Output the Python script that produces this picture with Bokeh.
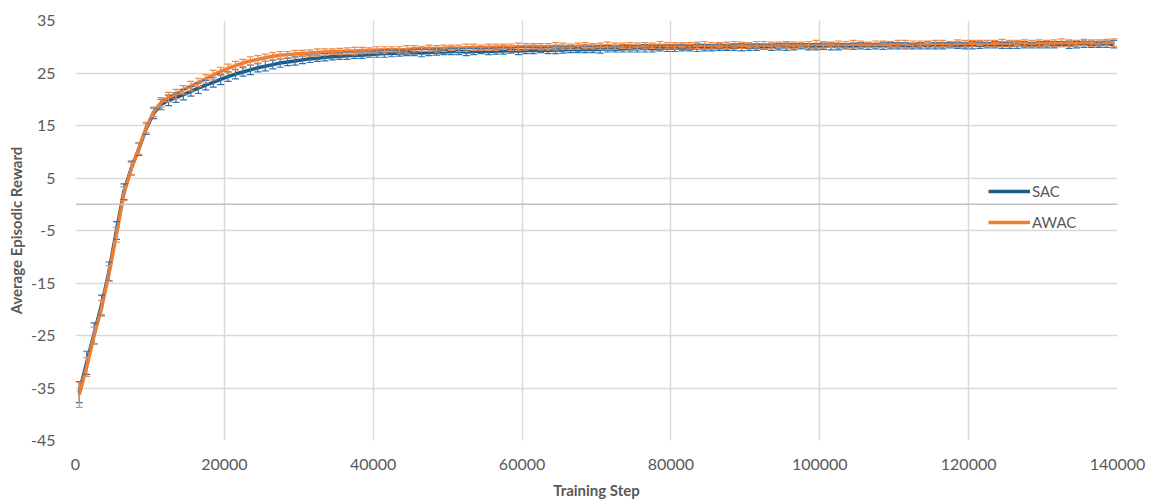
from bokeh.plotting import figure
from bokeh.models import (ColumnDataSource, Whisker, TeeHead, Span, Legend, LegendItem,
                          FixedTicker, BasicTickFormatter, Range1d)
from bokeh.embed import file_html
from bokeh.resources import INLINE

# Evaluation steps (every 1000 training steps, offset by 500)
steps = list(range(500, 140000, 1000))

# Mean episodic reward per evaluation
awac_mean = [
    -36.3, -31.0, -25.0, -19.8, -13.2, -5.8, 2.0, 6.8, 10.6, 14.6,
    17.6, 19.4, 20.4, 21.0, 21.8, 22.5, 23.2, 23.9, 24.6, 25.3,
    25.9, 26.4, 26.9, 27.3, 27.6, 27.9, 28.2, 28.4, 28.5, 28.6,
    28.7, 28.8, 28.9, 29.0, 29.1, 29.1, 29.2, 29.2, 29.3, 29.3,
    29.4, 29.4, 29.5, 29.4, 29.5, 29.6, 29.6, 29.7, 29.6, 29.7,
    29.8, 29.7, 29.8, 29.9, 29.8, 29.9, 29.9, 30.0, 29.9, 30.0,
    30.0, 30.1, 30.0, 30.0, 30.1, 30.1, 30.0, 30.1, 30.2, 30.1,
    30.1, 30.2, 30.1, 30.2, 30.2, 30.1, 30.2, 30.2, 30.3, 30.2,
    30.2, 30.3, 30.2, 30.3, 30.3, 30.2, 30.3, 30.3, 30.4, 30.3,
    30.3, 30.4, 30.3, 30.3, 30.4, 30.4, 30.3, 30.4, 30.4, 30.5,
    30.4, 30.4, 30.5, 30.4, 30.5, 30.5, 30.4, 30.5, 30.5, 30.5,
    30.6, 30.5, 30.5, 30.6, 30.5, 30.6, 30.6, 30.5, 30.6, 30.6,
    30.6, 30.7, 30.6, 30.6, 30.7, 30.6, 30.7, 30.7, 30.6, 30.7,
    30.7, 30.7, 30.8, 30.7, 30.7, 30.8, 30.7, 30.8, 30.8, 30.8,
]
sac_mean = [
    -35.8, -30.2, -24.6, -19.2, -12.8, -5.0, 2.4, 6.9, 10.5, 14.4,
    17.3, 19.0, 19.8, 20.3, 20.9, 21.5, 22.1, 22.7, 23.2, 23.8,
    24.3, 24.8, 25.2, 25.6, 26.0, 26.3, 26.6, 26.9, 27.1, 27.3,
    27.5, 27.7, 27.8, 28.0, 28.1, 28.2, 28.3, 28.4, 28.4, 28.5,
    28.6, 28.7, 28.7, 28.8, 28.8, 28.9, 28.8, 28.9, 29.0, 29.0,
    29.1, 29.1, 29.0, 29.1, 29.2, 29.1, 29.2, 29.2, 29.3, 29.2,
    29.3, 29.3, 29.4, 29.3, 29.4, 29.4, 29.5, 29.4, 29.5, 29.5,
    29.5, 29.6, 29.5, 29.6, 29.6, 29.6, 29.7, 29.6, 29.7, 29.7,
    29.7, 29.8, 29.7, 29.8, 29.8, 29.8, 29.9, 29.8, 29.9, 29.9,
    29.9, 29.9, 30.0, 29.9, 30.0, 30.0, 30.0, 30.1, 30.0, 30.0,
    30.1, 30.1, 30.0, 30.1, 30.1, 30.2, 30.1, 30.1, 30.2, 30.2,
    30.2, 30.2, 30.1, 30.2, 30.3, 30.2, 30.2, 30.3, 30.3, 30.2,
    30.3, 30.3, 30.3, 30.4, 30.3, 30.3, 30.4, 30.4, 30.3, 30.4,
    30.4, 30.4, 30.5, 30.4, 30.4, 30.5, 30.5, 30.4, 30.5, 30.5,
]

# Standard deviation across seeds
awac_std = [
    2.4, 1.8, 1.6, 1.5, 1.5, 1.4, 1.3, 1.2, 1.1, 1.0,
    0.9, 0.9, 0.9, 0.9, 0.8, 0.9, 0.8, 0.8, 0.9, 0.8,
    0.8, 0.8, 0.7, 0.8, 0.7, 0.7, 0.7, 0.7, 0.6, 0.7,
    0.6, 0.6, 0.7, 0.6, 0.5, 0.6, 0.6, 0.7, 0.6, 0.5,
    0.6, 0.6, 0.5, 0.6, 0.7, 0.6, 0.5, 0.6, 0.6, 0.6,
    0.5, 0.6, 0.7, 0.6, 0.5, 0.6, 0.6, 0.5, 0.6, 0.7,
    0.6, 0.5, 0.6, 0.6, 0.7, 0.6, 0.5, 0.6, 0.6, 0.5,
    0.6, 0.7, 0.6, 0.5, 0.6, 0.6, 0.6, 0.5, 0.7, 0.6,
    0.6, 0.5, 0.6, 0.6, 0.7, 0.6, 0.5, 0.6, 0.6, 0.6,
    0.5, 0.6, 0.7, 0.6, 0.5, 0.6, 0.6, 0.5, 0.6, 0.7,
    0.6, 0.5, 0.6, 0.6, 0.7, 0.6, 0.5, 0.6, 0.6, 0.5,
    0.6, 0.7, 0.6, 0.5, 0.6, 0.6, 0.6, 0.5, 0.7, 0.6,
    0.6, 0.5, 0.6, 0.6, 0.7, 0.6, 0.5, 0.6, 0.6, 0.6,
    0.5, 0.6, 0.7, 0.6, 0.5, 0.6, 0.6, 0.5, 0.6, 0.7,
]
sac_std = [
    2.0, 2.2, 2.0, 1.9, 1.8, 1.7, 1.5, 1.3, 1.2, 1.1,
    1.0, 1.0, 1.0, 0.9, 1.0, 0.9, 1.0, 0.9, 0.9, 1.0,
    0.9, 0.9, 0.8, 0.9, 0.8, 0.9, 0.8, 0.8, 0.7, 0.8,
    0.7, 0.7, 0.6, 0.7, 0.6, 0.6, 0.7, 0.6, 0.6, 0.5,
    0.6, 0.7, 0.6, 0.6, 0.5, 0.6, 0.7, 0.6, 0.6, 0.5,
    0.6, 0.6, 0.7, 0.6, 0.5, 0.6, 0.6, 0.6, 0.5, 0.7,
    0.6, 0.6, 0.5, 0.6, 0.7, 0.6, 0.6, 0.5, 0.6, 0.6,
    0.7, 0.6, 0.5, 0.6, 0.6, 0.6, 0.7, 0.6, 0.5, 0.6,
    0.6, 0.6, 0.5, 0.7, 0.6, 0.6, 0.6, 0.5, 0.6, 0.7,
    0.6, 0.6, 0.5, 0.6, 0.6, 0.7, 0.6, 0.5, 0.6, 0.6,
    0.6, 0.7, 0.6, 0.5, 0.6, 0.6, 0.6, 0.5, 0.7, 0.6,
    0.6, 0.6, 0.5, 0.6, 0.7, 0.6, 0.6, 0.5, 0.6, 0.6,
    0.7, 0.6, 0.5, 0.6, 0.6, 0.6, 0.7, 0.6, 0.5, 0.6,
    0.6, 0.6, 0.5, 0.7, 0.6, 0.6, 0.6, 0.5, 0.6, 0.7,
]

x_ticks = [0, 20000, 40000, 60000, 80000, 100000, 120000, 140000]
y_ticks = [-45, -35, -25, -15, -5, 5, 15, 25, 35]

TEXT = "#595959"
FONT = "Lato"
SAC_LINE, SAC_BAR = "#1F5A82", "#2E75B6"
AWAC_LINE, AWAC_BAR = "#ED7D31", "#F08A48"


def series_source(mean, std):
    return ColumnDataSource(dict(
        x=steps, y=mean,
        lower=[m - s for m, s in zip(mean, std)],
        upper=[m + s for m, s in zip(mean, std)],
    ))


p = figure(width=1149, height=502, output_backend="svg", toolbar_location=None,
           x_range=Range1d(0, 140000), y_range=Range1d(-45, 35),
           min_border_left=75, min_border_right=32, min_border_top=20, min_border_bottom=62)
p.outline_line_color = None
p.background_fill_color = "white"

# axes and grid
for ax in (p.xaxis[0], p.yaxis[0]):
    ax.axis_line_color = None
    ax.major_tick_line_color = None
    ax.minor_tick_line_color = None
    ax.major_label_text_color = TEXT
    ax.major_label_text_font = FONT
    ax.major_label_text_font_size = "16px"
    ax.axis_label_text_color = TEXT
    ax.axis_label_text_font = FONT
    ax.axis_label_text_font_size = "15px"
    ax.axis_label_text_font_style = "bold"

p.xaxis.ticker = FixedTicker(ticks=x_ticks)
p.xaxis.formatter = BasicTickFormatter(use_scientific=False)
p.xaxis.major_label_standoff = 12
p.xaxis.axis_label = "Training Step"
p.xaxis.axis_label_standoff = 8

p.yaxis.ticker = FixedTicker(ticks=y_ticks)
# plain hyphen-minus on the value labels
p.yaxis.major_label_overrides = {t: str(t) for t in y_ticks}
p.yaxis.major_label_standoff = 14
p.yaxis.axis_label = "Average Episodic Reward"
p.yaxis.axis_label_standoff = 3

p.xgrid.ticker = FixedTicker(ticks=x_ticks)
p.ygrid.ticker = FixedTicker(ticks=y_ticks)
for g in (p.xgrid[0], p.ygrid[0]):
    g.grid_line_color = "#D9D9D9"
    g.grid_line_width = 1.5

# horizontal axis line at zero
p.add_layout(Span(location=0, dimension="width", line_color="#BFBFBF", line_width=1.5))

sac_src = series_source(sac_mean, sac_std)
awac_src = series_source(awac_mean, awac_std)

renderers = {}
for name, src, line_col, bar_col in (("SAC", sac_src, SAC_LINE, SAC_BAR),
                                     ("AWAC", awac_src, AWAC_LINE, AWAC_BAR)):
    w = Whisker(base="x", lower="lower", upper="upper", source=src,
                line_color=bar_col, line_width=1.2, level="glyph",
                upper_head=TeeHead(size=7, line_color=bar_col, line_width=1.2),
                lower_head=TeeHead(size=7, line_color=bar_col, line_width=1.2))
    p.add_layout(w)
    renderers[name] = p.line("x", "y", source=src, line_color=line_col, line_width=3.5)

legend = Legend(items=[LegendItem(label="SAC", renderers=[renderers["SAC"]]),
                       LegendItem(label="AWAC", renderers=[renderers["AWAC"]])],
                location=(913, 208), orientation="vertical",
                background_fill_alpha=0, border_line_color=None,
                padding=0, margin=0, spacing=11, glyph_width=42, glyph_height=20,
                label_height=20, label_standoff=2,
                label_text_color=TEXT, label_text_font=FONT, label_text_font_size="15px")
p.add_layout(legend, "center")

open("out.html", "w").write(file_html(p, INLINE))
